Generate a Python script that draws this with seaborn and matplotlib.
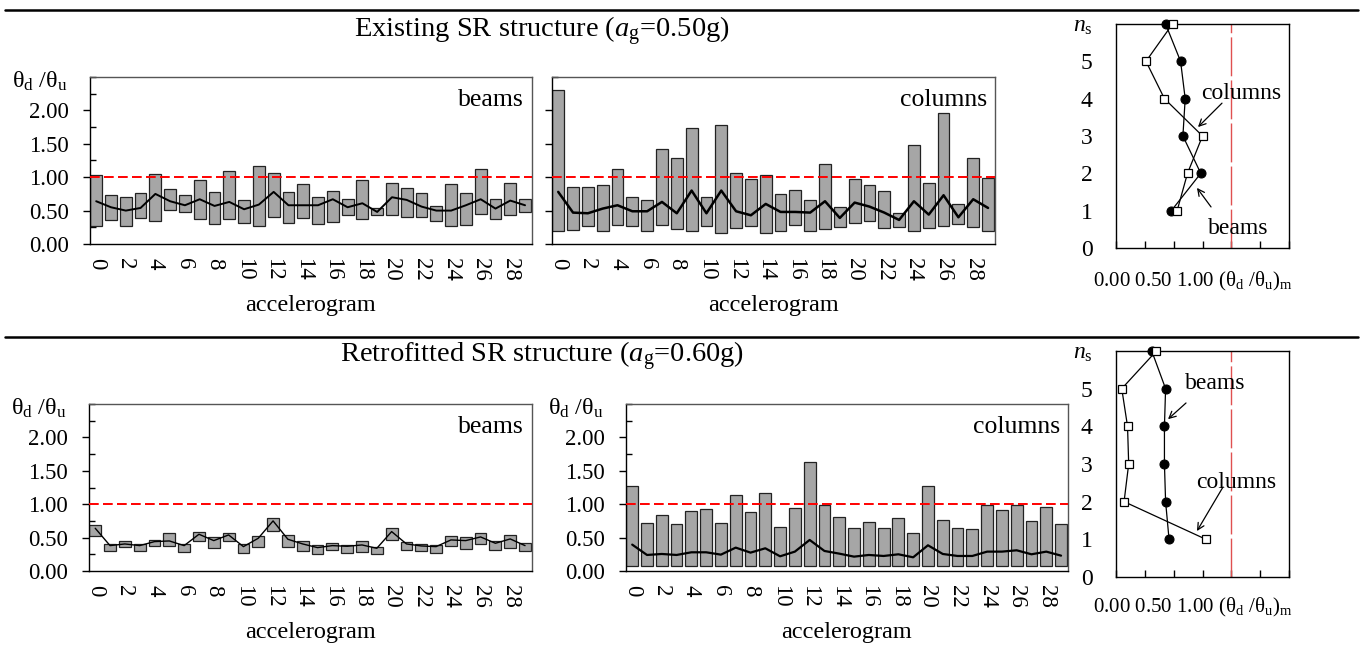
import numpy as np
import pandas as pd
import matplotlib
matplotlib.use('Agg')
import matplotlib.pyplot as plt
import seaborn as sns
from matplotlib.ticker import MultipleLocator, FormatStrFormatter
from matplotlib.lines import Line2D

# ---------------- data ----------------
accel_ticks = [0, 2, 4, 6, 8, 10, 12, 14, 16, 18, 20, 22, 24, 26, 28]

ex_beams_max = [1.04, 0.74, 0.70, 0.77, 1.05, 0.82, 0.73, 0.96, 0.78, 1.10, 0.66, 1.17, 1.06, 0.78, 0.90,
                0.70, 0.79, 0.67, 0.96, 0.54, 0.91, 0.84, 0.76, 0.57, 0.90, 0.77, 1.12, 0.67, 0.92, 0.68]
ex_beams_min = [0.27, 0.36, 0.27, 0.39, 0.35, 0.51, 0.48, 0.37, 0.30, 0.38, 0.32, 0.27, 0.40, 0.32, 0.39,
                0.30, 0.33, 0.44, 0.38, 0.43, 0.43, 0.41, 0.41, 0.35, 0.27, 0.28, 0.45, 0.37, 0.44, 0.48]
ex_beams_mean = [0.64, 0.55, 0.50, 0.54, 0.75, 0.64, 0.58, 0.67, 0.57, 0.63, 0.52, 0.59, 0.78, 0.58, 0.58,
                 0.58, 0.67, 0.55, 0.61, 0.48, 0.70, 0.66, 0.56, 0.50, 0.50, 0.58, 0.67, 0.53, 0.65, 0.58]

ex_cols_max = [2.30, 0.85, 0.85, 0.88, 1.12, 0.70, 0.66, 1.42, 1.28, 1.74, 0.70, 1.78, 1.06, 0.97, 1.04,
               0.75, 0.81, 0.66, 1.20, 0.55, 0.98, 0.88, 0.80, 0.47, 1.48, 0.92, 1.96, 0.60, 1.29, 0.99]
ex_cols_min = [0.20, 0.21, 0.27, 0.19, 0.28, 0.27, 0.20, 0.28, 0.22, 0.19, 0.27, 0.17, 0.24, 0.27, 0.17,
               0.19, 0.28, 0.20, 0.23, 0.25, 0.31, 0.34, 0.24, 0.26, 0.19, 0.24, 0.27, 0.30, 0.26, 0.20]
ex_cols_mean = [0.78, 0.47, 0.46, 0.53, 0.58, 0.49, 0.49, 0.63, 0.46, 0.80, 0.46, 0.80, 0.49, 0.43, 0.60,
                0.48, 0.48, 0.47, 0.64, 0.39, 0.62, 0.56, 0.47, 0.36, 0.64, 0.44, 0.73, 0.40, 0.67, 0.54]

re_beams_max = [0.695, 0.405, 0.45, 0.41, 0.46, 0.57, 0.41, 0.58, 0.51, 0.57, 0.40, 0.525, 0.80, 0.545, 0.455,
                0.385, 0.425, 0.385, 0.45, 0.36, 0.645, 0.44, 0.405, 0.395, 0.52, 0.515, 0.565, 0.45, 0.54, 0.425]
re_beams_min = [0.525, 0.30, 0.355, 0.295, 0.375, 0.375, 0.29, 0.455, 0.34, 0.455, 0.275, 0.36, 0.595, 0.36, 0.30,
                0.255, 0.31, 0.265, 0.28, 0.255, 0.46, 0.32, 0.305, 0.265, 0.38, 0.335, 0.40, 0.315, 0.35, 0.295]
re_beams_mean = [0.64, 0.38, 0.405, 0.38, 0.44, 0.45, 0.38, 0.55, 0.455, 0.54, 0.365, 0.49, 0.75, 0.475, 0.405,
                 0.35, 0.38, 0.37, 0.39, 0.34, 0.59, 0.405, 0.375, 0.365, 0.465, 0.455, 0.51, 0.415, 0.48, 0.38]

re_cols_max = [1.27, 0.715, 0.835, 0.70, 0.895, 0.93, 0.715, 1.135, 0.88, 1.17, 0.655, 0.95, 1.63, 0.99, 0.805,
               0.65, 0.74, 0.65, 0.795, 0.575, 1.27, 0.77, 0.65, 0.635, 0.99, 0.91, 0.99, 0.75, 0.965, 0.71]
re_cols_min = [0.07, 0.07, 0.07, 0.07, 0.07, 0.07, 0.07, 0.07, 0.07, 0.07, 0.07, 0.07, 0.07, 0.07, 0.07,
               0.07, 0.07, 0.07, 0.07, 0.07, 0.07, 0.07, 0.07, 0.07, 0.07, 0.07, 0.07, 0.07, 0.07, 0.07]
re_cols_mean = [0.395, 0.24, 0.255, 0.24, 0.28, 0.28, 0.245, 0.35, 0.275, 0.34, 0.22, 0.29, 0.465, 0.30, 0.26,
                0.215, 0.24, 0.225, 0.25, 0.205, 0.385, 0.255, 0.225, 0.225, 0.29, 0.29, 0.31, 0.25, 0.29, 0.23]

storeys = [1, 2, 3, 4, 5, 6]
ex_prof_beams = [0.48, 0.735, 0.58, 0.60, 0.56, 0.43]
ex_prof_cols = [0.53, 0.62, 0.75, 0.42, 0.26, 0.49]
re_prof_beams = [0.46, 0.43, 0.42, 0.42, 0.43, 0.31]
re_prof_cols = [0.78, 0.07, 0.11, 0.10, 0.05, 0.35]

bar_yticks = [0.0, 0.5, 1.0, 1.5, 2.0]
prof_yticks = [0, 1, 2, 3, 4, 5, 6]
prof_yticklabels = ['0', '1', '2', '3', '4', '5', r'$n_\mathrm{s}$']
prof_xtext = r'0.00 0.50 1.00 (θ$_\mathrm{d}$ /θ$_\mathrm{u}$)$_\mathrm{m}$'
ratio_label = r'θ$_\mathrm{d}$ /θ$_\mathrm{u}$'
title_ex = r'Existing SR structure ($a_\mathrm{g}$=0.50g)'
title_re = r'Retrofitted SR structure ($a_\mathrm{g}$=0.60g)'

# ---------------- style ----------------
sns.set_theme(style='white')
plt.rcParams['font.family'] = ['Liberation Serif', 'DejaVu Serif']
plt.rcParams['mathtext.fontset'] = 'custom'
plt.rcParams['mathtext.rm'] = 'Liberation Serif'
plt.rcParams['mathtext.it'] = 'Liberation Serif:italic'
plt.rcParams['mathtext.bf'] = 'Liberation Serif:bold'
for k in ['text.color', 'axes.labelcolor', 'xtick.color', 'ytick.color', 'axes.edgecolor']:
    plt.rcParams[k] = 'black'

W, H = 1371, 646
fig = plt.figure(figsize=(W / 100, H / 100), dpi=100)


def box(l, t, r, b):
    return [l / W, 1 - b / H, (r - l) / W, (b - t) / H]


def bar_panel(rect, vmin, vmax, vmean, name, show_ylabels, show_ratio, lw_mean):
    ax = fig.add_axes(rect)
    x = np.arange(len(vmax))
    lo = np.array(vmin)
    hi = np.array(vmax)
    ax.bar(x, hi - lo, bottom=lo, width=0.8, color='#a6a6a6', edgecolor='#222222',
           linewidth=0.9, zorder=2)
    df = pd.DataFrame({'accelerogram': x, 'mean': vmean})
    sns.lineplot(data=df, x='accelerogram', y='mean', ax=ax, color='black',
                 lw=lw_mean, zorder=3)
    ax.axhline(1.0, color='red', ls=(0, (5, 2.2)), lw=1.4, zorder=4)
    ax.set_xlim(-0.42, 29.47)
    ax.set_ylim(0, 2.5)
    ax.set_xticks(accel_ticks)
    ax.set_xticklabels([str(t) for t in accel_ticks], rotation=270, fontsize=16.5)
    ax.tick_params(axis='x', length=0, pad=10)
    ax.set_yticks(bar_yticks)
    ax.yaxis.set_minor_locator(MultipleLocator(0.25))
    ax.yaxis.set_major_formatter(FormatStrFormatter('%.2f'))
    ax.tick_params(axis='y', which='major', left=True, direction='out', length=5, width=1,
                   labelsize=16.5, pad=10, labelleft=show_ylabels)
    ax.tick_params(axis='y', which='minor', left=True, direction='in', length=4, width=1)
    ax.set_xlabel('accelerogram', fontsize=17.5, labelpad=10)
    ax.set_ylabel('')
    ax.text(0.982, 0.93, name, transform=ax.transAxes, ha='right', va='top', fontsize=18.5)
    if show_ratio:
        ax.text(-0.05, 0.975, ratio_label, transform=ax.transAxes, ha='right',
                va='center', fontsize=17.5)
    for s in ax.spines.values():
        s.set_linewidth(1.0)
        s.set_color('black')
    ax.spines['top'].set_color('#555555')
    ax.spines['right'].set_color('#555555')
    return ax


def profile_panel(rect, beams, cols, ann, text_y):
    ax = fig.add_axes(rect)
    dfb = pd.DataFrame({'storey': storeys, 'ratio': beams})
    dfc = pd.DataFrame({'storey': storeys, 'ratio': cols})
    ax.axvline(1.0, color='#e05050', ls=(0, (28, 3)), lw=1.0, zorder=1)
    sns.lineplot(data=dfb, x='ratio', y='storey', orient='y', ax=ax, color='black',
                 lw=0.9, marker='o', markersize=6.5, markerfacecolor='black',
                 markeredgecolor='black', clip_on=False, zorder=3)
    sns.lineplot(data=dfc, x='ratio', y='storey', orient='y', ax=ax, color='black',
                 lw=0.9, marker='s', markersize=6, markerfacecolor='white',
                 markeredgecolor='black', markeredgewidth=0.9, clip_on=False, zorder=3)
    ax.set_xlim(0, 1.5)
    ax.set_ylim(0, 6)
    ax.xaxis.set_major_locator(MultipleLocator(0.25))
    ax.tick_params(axis='x', bottom=True, direction='in', length=5, width=1, labelbottom=False)
    ax.set_yticks(prof_yticks)
    ax.set_yticklabels(prof_yticklabels, fontsize=17)
    ax.tick_params(axis='y', length=0, pad=17)
    ax.set_xlabel('')
    ax.set_ylabel('')
    ax.text(-0.135, text_y, prof_xtext, transform=ax.transAxes, ha='left', va='center',
            fontsize=15)
    for label, xy, xytext, txt in ann:
        ax.annotate('', xy=xy, xytext=xytext,
                    arrowprops=dict(arrowstyle='->', color='black', lw=0.9, shrinkA=0, shrinkB=0))
        ax.text(txt[0], txt[1], label, ha='center', va='center', fontsize=17)
    for s in ax.spines.values():
        s.set_linewidth(1.0)
        s.set_color('black')
    return ax


# ---------------- panels ----------------
bar_panel(box(90, 77, 532, 244), ex_beams_min, ex_beams_max, ex_beams_mean, 'beams', True, True, 1.4)
bar_panel(box(552, 77, 995, 244), ex_cols_min, ex_cols_max, ex_cols_mean, 'columns', False, False, 1.8)
bar_panel(box(89, 404, 532, 571), re_beams_min, re_beams_max, re_beams_mean, 'beams', True, True, 1.0)
bar_panel(box(626, 404, 1068, 571), re_cols_min, re_cols_max, re_cols_mean, 'columns', True, True, 1.6)

profile_panel(box(1116, 24, 1289, 248), ex_prof_beams, ex_prof_cols,
              [('columns', (0.711, 3.24), (0.919, 3.88), (1.084, 4.15)),
               ('beams', (0.702, 1.61), (0.824, 1.10), (1.058, 0.51))], -0.15)
profile_panel(box(1116, 351, 1289, 577), re_prof_beams, re_prof_cols,
              [('beams', (0.451, 4.19), (0.607, 4.62), (0.858, 5.15)),
               ('columns', (0.702, 1.22), (0.928, 2.39), (1.04, 2.52))], -0.135)

# ---------------- titles & rules ----------------
fig.text(542 / W, 1 - 31 / H, title_ex, ha='center', va='center', fontsize=20.5)
fig.text(542 / W, 1 - 356 / H, title_re, ha='center', va='center', fontsize=20.5)
fig.add_artist(Line2D([5 / W, 1358 / W], [1 - 10 / H, 1 - 10 / H], color='black', lw=1.8))
fig.add_artist(Line2D([5 / W, 1358 / W], [1 - 337 / H, 1 - 337 / H], color='black', lw=1.8))

fig.savefig('out.png', dpi=100)
